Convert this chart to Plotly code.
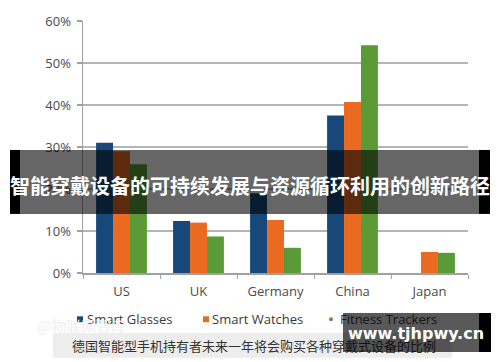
import plotly.graph_objects as go

categories = ["US", "UK", "Germany", "China", "Japan"]
smart_glasses = [0.31, 0.124, 0.19, 0.375, 0.0]
smart_watches = [0.29, 0.12, 0.126, 0.407, 0.05]
fitness_trackers = [0.259, 0.087, 0.06, 0.542, 0.048]
series_names = ["Smart Glasses", "Smart Watches", "Fitness Trackers"]
y_ticks = [0, 0.1, 0.2, 0.3, 0.4, 0.5, 0.6]
y_tick_labels = ["0%", "10%", "20%", "30%", "40%", "50%", "60%"]
banner_title = "智能穿戴设备的可持续发展与资源循环利用的创新路径"
caption = "德国智能型手机持有者未来一年将会购买各种穿戴式设备的比例"
faint_text = "@物联网智库"
watermark = "www.tjhpwy.cn"

colors = ["#16497a", "#ea6a22", "#5a9b37"]

W, H = 500, 362
L, R, T, B = 83, 468, 17, 273


def px(xp):
    return (xp - L) / (R - L)


def py(yp):
    return (B - yp) / (B - T)


fig = go.Figure()
for name, vals, c in zip(series_names, [smart_glasses, smart_watches, fitness_trackers], colors):
    fig.add_trace(go.Bar(x=categories, y=vals, name=name, marker=dict(color=c, line=dict(width=0)),
                         showlegend=False, hoverinfo="skip"))

fig.update_layout(
    width=W, height=H,
    margin=dict(l=L, r=W - R, t=T, b=H - B, pad=0),
    paper_bgcolor="white", plot_bgcolor="white",
    barmode="group", bargap=0.34, bargroupgap=0,
    font=dict(family="Open Sans", color="#444"),
)
fig.update_yaxes(range=[0, 0.6], tickvals=y_ticks, ticktext=y_tick_labels,
                 showgrid=True, gridcolor="#b5b5b5", gridwidth=1.5,
                 showline=True, linecolor="#a0a0a0", linewidth=1.5,
                 ticks="outside", ticklen=5, tickcolor="#a0a0a0", tickwidth=1.5,
                 ticklabelstandoff=3,
                 tickfont=dict(size=13, color="#4a4a4a", family="Open Sans"),
                 zeroline=False, fixedrange=True)
fig.update_xaxes(showline=True, linecolor="#a0a0a0", linewidth=1.5,
                 ticks="outside", tickson="boundaries", ticklen=4, tickcolor="#a0a0a0",
                 ticklabelstandoff=6,
                 tickfont=dict(size=13, color="#4a4a4a", family="Open Sans"),
                 fixedrange=True)

shapes = []
annotations = []

# legend (manual)
legend_items = [(77, 85), (203, 210), (331, 338)]
for (sx, tx), name, c in zip(legend_items, series_names, colors):
    if name == "Fitness Trackers":
        shapes.append(dict(type="circle", xref="paper", yref="paper",
                           x0=px(sx - 2), x1=px(sx + 2), y0=py(318), y1=py(322),
                           fillcolor=c, line=dict(width=0)))
    else:
        shapes.append(dict(type="rect", xref="paper", yref="paper",
                           x0=px(sx), x1=px(sx + 6), y0=py(317), y1=py(323),
                           fillcolor=c, line=dict(width=0)))
    annotations.append(dict(xref="paper", yref="paper", x=px(tx), y=py(320),
                            xanchor="left", yanchor="middle", showarrow=False,
                            text=name, font=dict(size=13, color="#3a3a3a", family="Open Sans")))

# faint text
annotations.append(dict(xref="paper", yref="paper", x=px(35), y=py(326), xanchor="left",
                        yanchor="middle", showarrow=False, text=faint_text,
                        font=dict(size=15, color="#f0f0f0", family="Noto Sans CJK SC")))

# caption box
shapes.append(dict(type="rect", xref="paper", yref="paper", x0=px(53), x1=px(452),
                   y0=py(334), y1=py(359), fillcolor="#ededed", line=dict(width=0), layer="above"))
annotations.append(dict(xref="paper", yref="paper", x=px(254), y=py(347), xanchor="center",
                        yanchor="middle", showarrow=False, text=caption,
                        font=dict(size=13, color="#333", family="Noto Sans CJK SC")))

# banner
shapes.append(dict(type="rect", xref="paper", yref="paper", x0=px(20), x1=px(479),
                   y0=py(148), y1=py(213), fillcolor="rgba(0,0,0,0.6)", line=dict(width=0),
                   layer="above"))
shapes.append(dict(type="rect", xref="paper", yref="paper", x0=px(10), x1=px(20),
                   y0=py(148), y1=py(213), fillcolor="black", line=dict(width=0), layer="above"))
shapes.append(dict(type="rect", xref="paper", yref="paper", x0=px(479), x1=px(490),
                   y0=py(148), y1=py(213), fillcolor="black", line=dict(width=0), layer="above"))
annotations.append(dict(xref="paper", yref="paper", x=px(250), y=py(184), xanchor="center",
                        yanchor="middle", showarrow=False, text="<b>" + banner_title + "</b>",
                        font=dict(size=20, color="white", family="Noto Sans CJK SC")))

# watermark box (annotation so it covers caption text)
annotations.append(dict(xref="paper", yref="paper", x=px(343), y=py(314), xanchor="left",
                        yanchor="top", showarrow=False, text="",
                        width=136, height=39, bgcolor="rgba(0,0,0,0.65)", borderpad=0,
                        borderwidth=0))
annotations.append(dict(xref="paper", yref="paper", x=px(479), y=py(314), xanchor="left",
                        yanchor="top", showarrow=False, text="",
                        width=12, height=39, bgcolor="black", borderpad=0, borderwidth=0))
annotations.append(dict(xref="paper", yref="paper", x=px(415.5), y=py(334), xanchor="center",
                        yanchor="middle", showarrow=False, text="<b>" + watermark + "</b>",
                        font=dict(size=16, color="white", family="DejaVu Sans")))

fig.update_layout(shapes=shapes, annotations=annotations)
fig.write_html("out.html", config={"displayModeBar": False, "staticPlot": True},
               post_script="document.body.style.margin='0';document.body.style.padding='0';")
